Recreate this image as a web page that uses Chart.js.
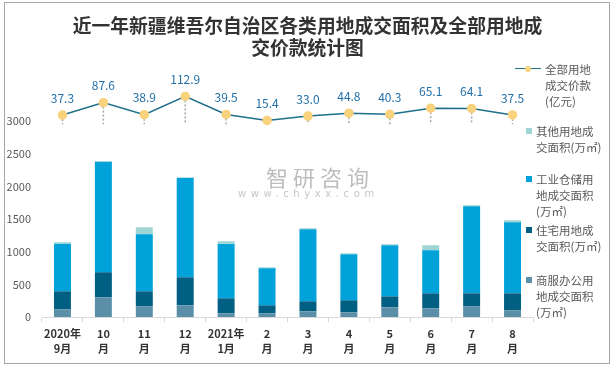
<!DOCTYPE html>
<html>
<head>
<meta charset="utf-8">
<script src="https://cdn.jsdelivr.net/npm/chart.js@4/dist/chart.umd.min.js"></script>
<style>
  body { margin: 0; background: #fff; }
  #wrap { position: relative; width: 615px; height: 367px; font-family: "Noto Sans CJK SC", sans-serif; }
  #frame { position: absolute; left: 4px; top: 2px; width: 604px; height: 360px; border: 1px solid #a6a6a6; }
  #title { position: absolute; left: 0; top: 14px; width: 615px; text-align: center; font-size: 18.8px; line-height: 22px; font-weight: bold; color: #333; }
  .mark { position: absolute; font-size: 11.5px; line-height: 16px; color: #595959; white-space: nowrap; }
  .sq { position: absolute; width: 6px; height: 6px; }
  #wm { position: absolute; left: 266px; top: 160px; color: #bdbdbd; font-size: 22px; letter-spacing: 5px; }
  #wm2 { position: absolute; left: 238px; top: 188px; color: #c6c6c6; font-size: 10px; letter-spacing: 4.6px; font-family: "DejaVu Sans", sans-serif; }
</style>
</head>
<body>
<div id="wrap">
  <canvas id="chart" width="615" height="367"></canvas>
  <div id="frame"></div>
  <div id="title">近一年新疆维吾尔自治区各类用地成交面积及全部用地成<br>交价款统计图</div>
  <div id="wm">智研咨询</div>
  <div id="wm2">www.chyxx.com</div>
  <div id="legend"></div>
</div>
<script>
const categories = [["2020年", "9月"], ["10", "月"], ["11", "月"], ["12", "月"], ["2021年", "1月"], ["2", "月"], ["3", "月"], ["4", "月"], ["5", "月"], ["6", "月"], ["7", "月"], ["8", "月"]];
const commercialArea = [118, 302, 164, 179, 57, 57, 87, 72, 148, 133, 164, 103];
const residentialArea = [276, 384, 230, 430, 230, 122, 154, 184, 169, 230, 199, 260];
const industrialArea = [726, 1689, 874, 1523, 833, 568, 1104, 705, 783, 660, 1335, 1089];
const otherArea = [26, 15, 108, 10, 41, 15, 15, 15, 15, 77, 15, 31];
const totalPrice = [37.3, 87.6, 38.9, 112.9, 39.5, 15.4, 33.0, 44.8, 40.3, 65.1, 64.1, 37.5];

const lineColor = "#1f6f8b";
const dotColor = "#f8d27c";

// legend drawn as html, placed like the excel original (overlapping the plot edge)
const legendItems = [
  { type: "line", lines: ["全部用地", "成交价款", "(亿元)"], top: 61, left: 545 },
  { color: "#9fd6d4", lines: ["其他用地成", "交面积(万㎡)"], top: 123, left: 536 },
  { color: "#00a2d9", lines: ["工业仓储用", "地成交面积", "(万㎡)"], top: 171, left: 536 },
  { color: "#005f83", lines: ["住宅用地成", "交面积(万㎡)"], top: 222, left: 536 },
  { color: "#5b8fa8", lines: ["商服办公用", "地成交面积", "(万㎡)"], top: 272, left: 536 },
];
const legendEl = document.getElementById("legend");
legendItems.forEach(item => {
  const t = document.createElement("div");
  t.className = "mark";
  t.style.left = item.left + "px";
  t.style.top = item.top + "px";
  t.innerHTML = item.lines.join("<br>");
  legendEl.appendChild(t);
  if (item.type === "line") {
    const ln = document.createElement("div");
    ln.style.cssText = "position:absolute;left:515px;top:" + (item.top + 7) + "px;width:26px;height:0;border-top:1.5px solid " + lineColor;
    const dot = document.createElement("div");
    dot.style.cssText = "position:absolute;left:525px;top:" + (item.top + 5) + "px;width:6px;height:6px;border-radius:50%;background:" + dotColor;
    legendEl.appendChild(ln);
    legendEl.appendChild(dot);
  } else {
    const sq = document.createElement("div");
    sq.className = "sq";
    sq.style.left = "526px";
    sq.style.top = (item.top + 5) + "px";
    sq.style.background = item.color;
    legendEl.appendChild(sq);
  }
});

// dotted drop lines from each price point down to zero of the price axis
const dropLines = {
  id: "dropLines",
  beforeDatasetsDraw(chart) {
    const meta = chart.getDatasetMeta(4);
    const y0 = chart.scales.y2.getPixelForValue(0);
    const ctx = chart.ctx;
    ctx.save();
    ctx.strokeStyle = "#a6a6a6";
    ctx.lineWidth = 1.5;
    ctx.setLineDash([2, 2]);
    meta.data.forEach(pt => {
      ctx.beginPath();
      ctx.moveTo(pt.x, pt.y);
      ctx.lineTo(pt.x, y0);
      ctx.stroke();
    });
    ctx.restore();
  },
};

const priceLabels = {
  id: "priceLabels",
  afterDatasetsDraw(chart) {
    const meta = chart.getDatasetMeta(4);
    const ctx = chart.ctx;
    ctx.save();
    ctx.font = "12px 'Noto Sans CJK SC', sans-serif";
    ctx.fillStyle = "#2270a8";
    ctx.textAlign = "center";
    ctx.textBaseline = "middle";
    meta.data.forEach((pt, i) => {
      ctx.fillText(totalPrice[i].toFixed(1), pt.x, pt.y - 17);
    });
    ctx.restore();
  },
};

Chart.defaults.font.family = "'Noto Sans CJK SC', sans-serif";

const ctx = document.getElementById("chart").getContext("2d");
new Chart(ctx, {
  type: "bar",
  data: {
    labels: categories,
    datasets: [
      { label: "商服办公用地成交面积(万㎡)", data: commercialArea, backgroundColor: "#5b8fa8", stack: "area", order: 1 },
      { label: "住宅用地成交面积(万㎡)", data: residentialArea, backgroundColor: "#005f83", stack: "area", order: 1 },
      { label: "工业仓储用地成交面积(万㎡)", data: industrialArea, backgroundColor: "#00a2d9", stack: "area", order: 1 },
      { label: "其他用地成交面积(万㎡)", data: otherArea, backgroundColor: "#9fd6d4", stack: "area", order: 1 },
      {
        type: "line",
        label: "全部用地成交价款(亿元)",
        data: totalPrice,
        yAxisID: "y2",
        borderColor: lineColor,
        borderWidth: 1.5,
        pointRadius: 4,
        pointBackgroundColor: dotColor,
        pointBorderColor: dotColor,
        tension: 0,
        order: 0,
      },
    ],
  },
  options: {
    responsive: false,
    animation: false,
    datasets: {
      bar: { categoryPercentage: 1, barPercentage: 0.415 },
    },
    layout: { padding: { left: 4, right: 82, top: 56, bottom: 0 } },
    plugins: {
      legend: { display: false },
      tooltip: { enabled: false },
    },
    scales: {
      x: {
        stacked: true,
        grid: { display: true, drawOnChartArea: false, drawTicks: true, tickLength: 5, color: "#d9d9d9", offset: true },
        border: { display: true, color: "#d9d9d9" },
        ticks: {
          color: "#333",
          padding: 4,
          maxRotation: 0,
          autoSkip: false,
          font: { size: 11, weight: "bold", lineHeight: 1.36 },
        },
        afterFit(scale) { scale.height = 50; },
      },
      y: {
        stacked: true,
        min: 0,
        max: 4000,
        grid: { display: false, drawTicks: false },
        border: { display: false },
        ticks: {
          stepSize: 500,
          padding: 11,
          color: "#595959",
          font: { size: 11 },
          callback: v => (v <= 3000 ? v : ""),
        },
        afterFit(scale) { scale.width = 38; },
      },
      y2: {
        display: false,
        min: -783,
        max: 277,
      },
    },
  },
  plugins: [dropLines, priceLabels],
});
</script>
</body>
</html>
